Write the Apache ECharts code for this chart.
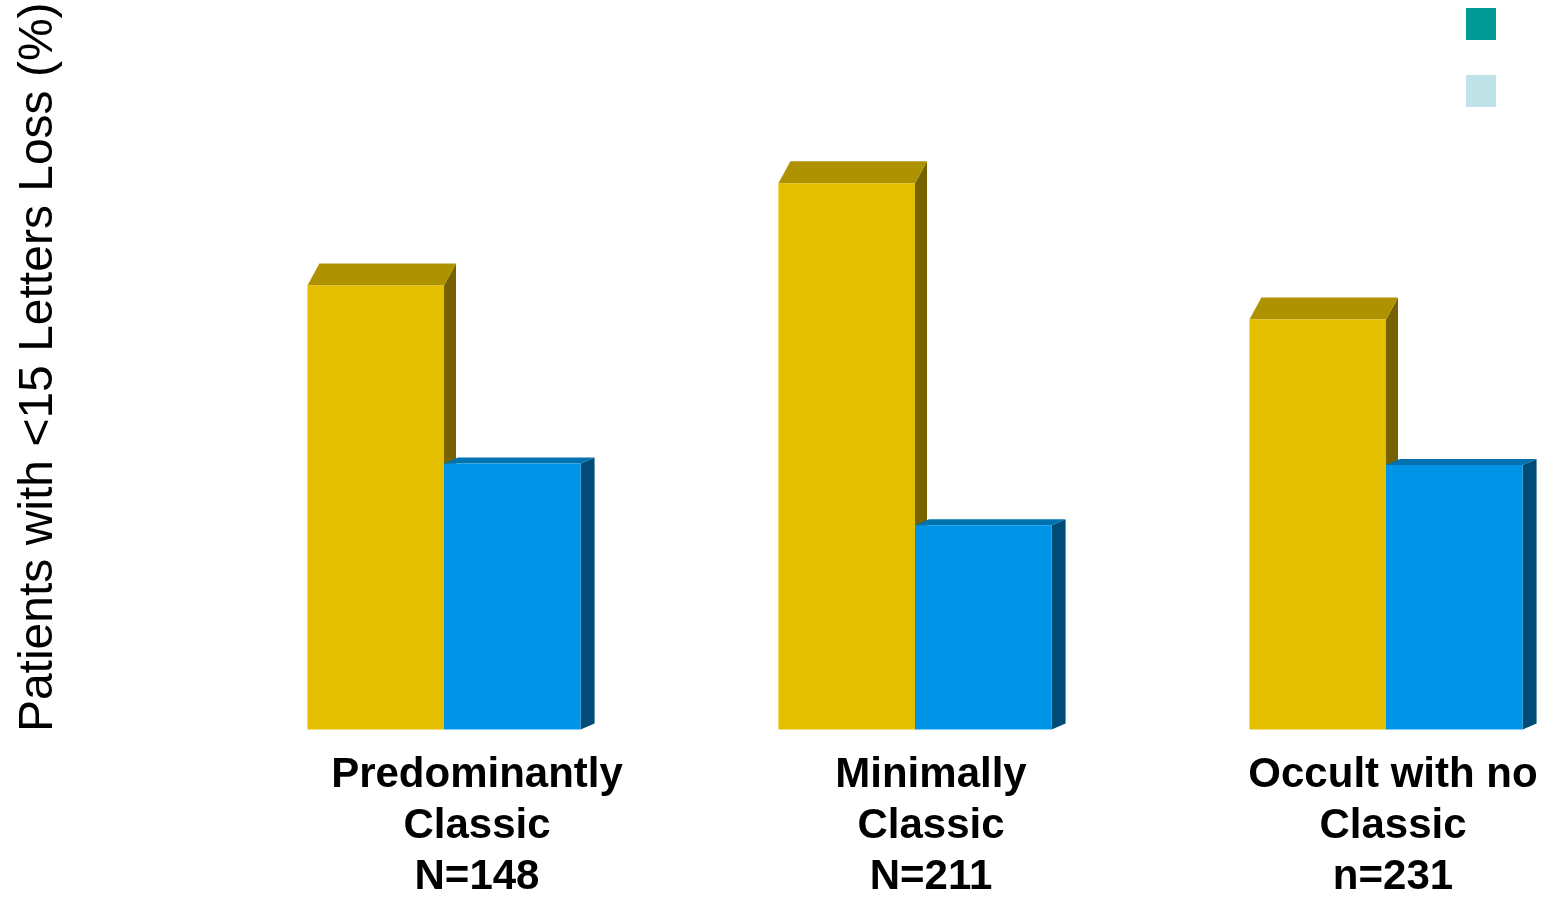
<!DOCTYPE html>
<html>
<head>
<meta charset="utf-8">
<script src="https://cdn.jsdelivr.net/npm/echarts@6/dist/echarts.min.js"></script>
<style>
  html, body { margin: 0; padding: 0; background: #fff; }
  #app { width: 1547px; height: 898px; }
</style>
</head>
<body>
<div id="app"></div>
<script>
// lesion subtypes (x axis)
const categories = [
  "Predominantly\nClassic\nN=148",
  "Minimally\nClassic\nN=211",
  "Occult with no\nClassic\nn=231"
];
// % of patients losing <15 letters
const treatedValues = [61.3, 75.4, 56.6];
const controlValues = [36.7, 28.2, 36.5];
const seriesNames = ["Treated", "Control"];

// face colours: front, top, side
const yellowFaces = ["#e3bf00", "#af9200", "#766300"];
const blueFaces = ["#0094e8", "#0072b0", "#004c76"];

// nudge each label a bit to the right, like the slide
const labelShift = [66, 32, 14];

function barRenderer(faces, dx, dy, side) {
  return function (params, api) {
    const idx = api.value(0);
    const top = api.coord([idx, api.value(1)]);
    const base = api.coord([idx, 0]);
    const w = api.size([1, 0])[0] * 0.29;
    const x0 = side < 0 ? top[0] - w : top[0];
    const x1 = x0 + w;
    const yT = top[1];
    const yB = base[1];
    return {
      type: "group",
      children: [
        {
          type: "polygon",
          shape: { points: [[x1, yT], [x1 + dx, yT + dy], [x1 + dx, yB + dy], [x1, yB]] },
          style: { fill: faces[2] }
        },
        {
          type: "polygon",
          shape: { points: [[x0, yT], [x0 + dx, yT + dy], [x1 + dx, yT + dy], [x1, yT]] },
          style: { fill: faces[1] }
        },
        {
          type: "rect",
          shape: { x: x0, y: yT, width: w, height: yB - yT },
          style: { fill: faces[0] }
        }
      ]
    };
  };
}

const rich = {};
labelShift.forEach((p, i) => {
  rich["p" + i] = {
    fontFamily: "Liberation Sans",
    fontWeight: "bold",
    fontSize: 42,
    lineHeight: 51,
    color: "#000",
    padding: [0, 0, 0, p]
  };
});

const chart = echarts.init(document.getElementById("app"));
chart.setOption({
  backgroundColor: "#fff",
  animation: false,
  grid: { left: 444, right: 161, top: 5, bottom: 165 },
  legend: {
    orient: "vertical",
    right: 46,
    top: 3,
    itemWidth: 30,
    itemHeight: 32,
    itemGap: 35,
    selectedMode: false,
    icon: "rect",
    formatter: () => "",
    data: [
      { name: seriesNames[0], itemStyle: { color: "#009b95" } },
      { name: seriesNames[1], itemStyle: { color: "#bfe3e6" } }
    ]
  },
  xAxis: {
    type: "category",
    data: categories,
    boundaryGap: false,
    axisLine: { show: false },
    axisTick: { show: false },
    axisLabel: {
      interval: 0,
      margin: 20,
      formatter: (value, i) =>
        value.split("\n").map(line => "{p" + i + "|" + line + "}").join("\n"),
      rich: rich
    }
  },
  yAxis: {
    type: "value",
    min: 0,
    max: 100,
    axisLine: { show: false },
    axisTick: { show: false },
    axisLabel: { show: false },
    splitLine: { show: false },
    name: "Patients with <15 Letters Loss (%)",
    nameLocation: "middle",
    nameRotate: 90,
    nameGap: 381,
    nameTextStyle: {
      fontFamily: "Liberation Sans",
      fontSize: 48,
      color: "#000"
    }
  },
  series: [
    {
      name: seriesNames[0],
      type: "custom",
      itemStyle: { color: "#009b95" },
      renderItem: barRenderer(yellowFaces, 12, -22, -1),
      encode: { x: 0, y: 1 },
      data: treatedValues.map((v, i) => [i, v])
    },
    {
      name: seriesNames[1],
      type: "custom",
      itemStyle: { color: "#bfe3e6" },
      renderItem: barRenderer(blueFaces, 14, -6, 1),
      encode: { x: 0, y: 1 },
      data: controlValues.map((v, i) => [i, v])
    }
  ]
});
</script>
</body>
</html>
